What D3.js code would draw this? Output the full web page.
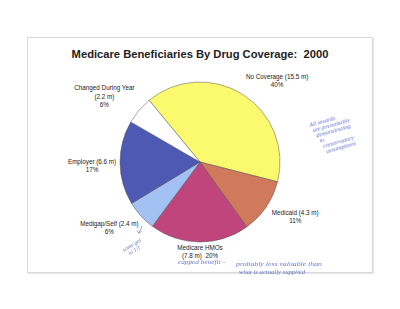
<!DOCTYPE html>
<html>
<head>
<meta charset="utf-8">
<script src="https://cdn.jsdelivr.net/npm/d3@7"></script>
<style>
  body { margin: 0; background: #fff; }
  svg { display: block; font-family: Arial, "Liberation Sans", sans-serif; }
  svg text { white-space: pre; }
</style>
</head>
<body>
<div id="chart"></div>
<script>
const TITLE = "Medicare Beneficiaries By Drug Coverage:  2000";
const CATEGORIES = ["No Coverage", "Medicaid", "Medicare HMOs", "Medigap/Self", "Employer", "Changed During Year"];
const MILLIONS = [15.5, 4.3, 7.8, 2.4, 6.6, 2.2];
const PERCENTS = ["40%", "11%", "20%", "6%", "17%", "6%"];
const COLORS = ["#fbfa6e", "#d17a5b", "#c0457d", "#a3c1f3", "#4d59b3", "#ffffff"];

// how each label is broken into lines (Excel placed them by hand)
const LABEL_LINES = [
    (c, m, p) => [`${c} (${m} m)`, p],
    (c, m, p) => [`${c} (${m} m)`, p],
    (c, m, p) => [c, `(${m} m)  ${p}`],
    (c, m, p) => [`${c} (${m} m)`, p],
    (c, m, p) => [`${c} (${m} m)`, p],
    (c, m, p) => [c, `(${m} m)`, p]
];
// label placement: [angle in degrees clockwise from 12 o'clock, distance from centre]
const LABEL_POLAR = [[43.5, 112], [120, 110], [180, 90], [234, 112], [268, 108], [304.5, 116]];

// handwritten notes (best reading of the scribbles)
const NOTE_RIGHT = ["All awards", "are presumably", "demonstrating", "in", "conservatory", "assumptions"];
const NOTE_BOTTOM = ["capped benefit \u2013", "probably less valuable than", "what is actually supplied"];
const NOTE_LEFT = ["some got", "in 1/1"];

const W = 400, H = 309;
const cx = 200, cy = 162, r = 80;

const svg = d3.select("#chart").append("svg")
    .attr("width", W).attr("height", H);

// page frame
svg.append("rect")
    .attr("x", 28.5).attr("y", 38.5)
    .attr("width", 345).attr("height", 235)
    .attr("fill", "none").attr("stroke", "#e6e6e6").attr("stroke-width", 1.2);
svg.append("rect")
    .attr("x", 27.5).attr("y", 37.5)
    .attr("width", 345).attr("height", 235)
    .attr("fill", "#fff").attr("stroke", "#d2d2d2").attr("stroke-width", 0.8);

svg.append("text")
    .attr("x", 200).attr("y", 58)
    .attr("text-anchor", "middle")
    .style("font-size", "11.2px").style("font-weight", 700)
    .attr("fill", "#222")
    .text(TITLE);

const data = CATEGORIES.map((c, i) => ({ cat: c, value: MILLIONS[i], pct: PERCENTS[i], i }));

const start = -39.5 * Math.PI / 180;
const pie = d3.pie().value(d => d.value).sort(null)
    .startAngle(start).endAngle(start + 2 * Math.PI);
const arc = d3.arc().innerRadius(0).outerRadius(r);

const g = svg.append("g").attr("transform", `translate(${cx},${cy})`);
g.selectAll("path")
    .data(pie(data))
    .join("path")
    .attr("d", arc)
    .attr("fill", d => COLORS[d.data.i])
    .attr("stroke", "#555")
    .attr("stroke-width", 0.5);

// labels
const lab = g.selectAll("g.lab")
    .data(data)
    .join("g")
    .attr("class", "lab")
    .attr("transform", d => {
        const [deg, dist] = LABEL_POLAR[d.i];
        const a = deg * Math.PI / 180;
        return `translate(${dist * Math.sin(a)},${-dist * Math.cos(a)})`;
    });

lab.each(function (d) {
    const lines = LABEL_LINES[d.i](d.cat, d.value, d.pct);
    const lh = 8.2;
    const y0 = -((lines.length - 1) * lh) / 2 + 2.2;
    d3.select(this).selectAll("text")
        .data(lines)
        .join("text")
        .attr("x", 0)
        .attr("y", (t, k) => y0 + k * lh)
        .attr("text-anchor", "middle")
        .style("font-size", "6.3px")
        .attr("fill", "#222")
        .text(t => t);
});

// ink notes on the printout
const INK = "#5a68c8";
const notes = svg.append("g")
    .style("font-family", "'Liberation Serif', serif")
    .style("font-style", "italic")
    .attr("fill", INK)
    .attr("opacity", 0.9);

notes.append("g")
    .attr("transform", "translate(310,127) rotate(-16)")
    .selectAll("text")
    .data(NOTE_RIGHT)
    .join("text")
    .attr("x", (t, k) => k * 1.8)
    .attr("y", (t, k) => k * 6)
    .style("font-size", "6.2px")
    .text(t => t);

const bottomPos = [[178, 264, 48], [236, 266, 86], [239, 274, 66]];
notes.selectAll("text.bn")
    .data(NOTE_BOTTOM)
    .join("text")
    .attr("class", "bn")
    .attr("x", (t, k) => bottomPos[k][0])
    .attr("y", (t, k) => bottomPos[k][1])
    .attr("textLength", (t, k) => bottomPos[k][2])
    .attr("lengthAdjust", "spacingAndGlyphs")
    .style("font-size", "6.4px")
    .text(t => t);

notes.append("g")
    .attr("transform", "translate(124,252) rotate(-32)")
    .selectAll("text")
    .data(NOTE_LEFT)
    .join("text")
    .attr("x", (t, k) => k * 3)
    .attr("y", (t, k) => k * 6)
    .style("font-size", "5.8px")
    .text(t => t);

notes.append("path")
    .attr("d", "M142,226 L139,233 M137,230.5 L139,233.5 L141.5,231")
    .attr("fill", "none").attr("stroke", INK).attr("stroke-width", 0.7);
</script>
</body>
</html>
